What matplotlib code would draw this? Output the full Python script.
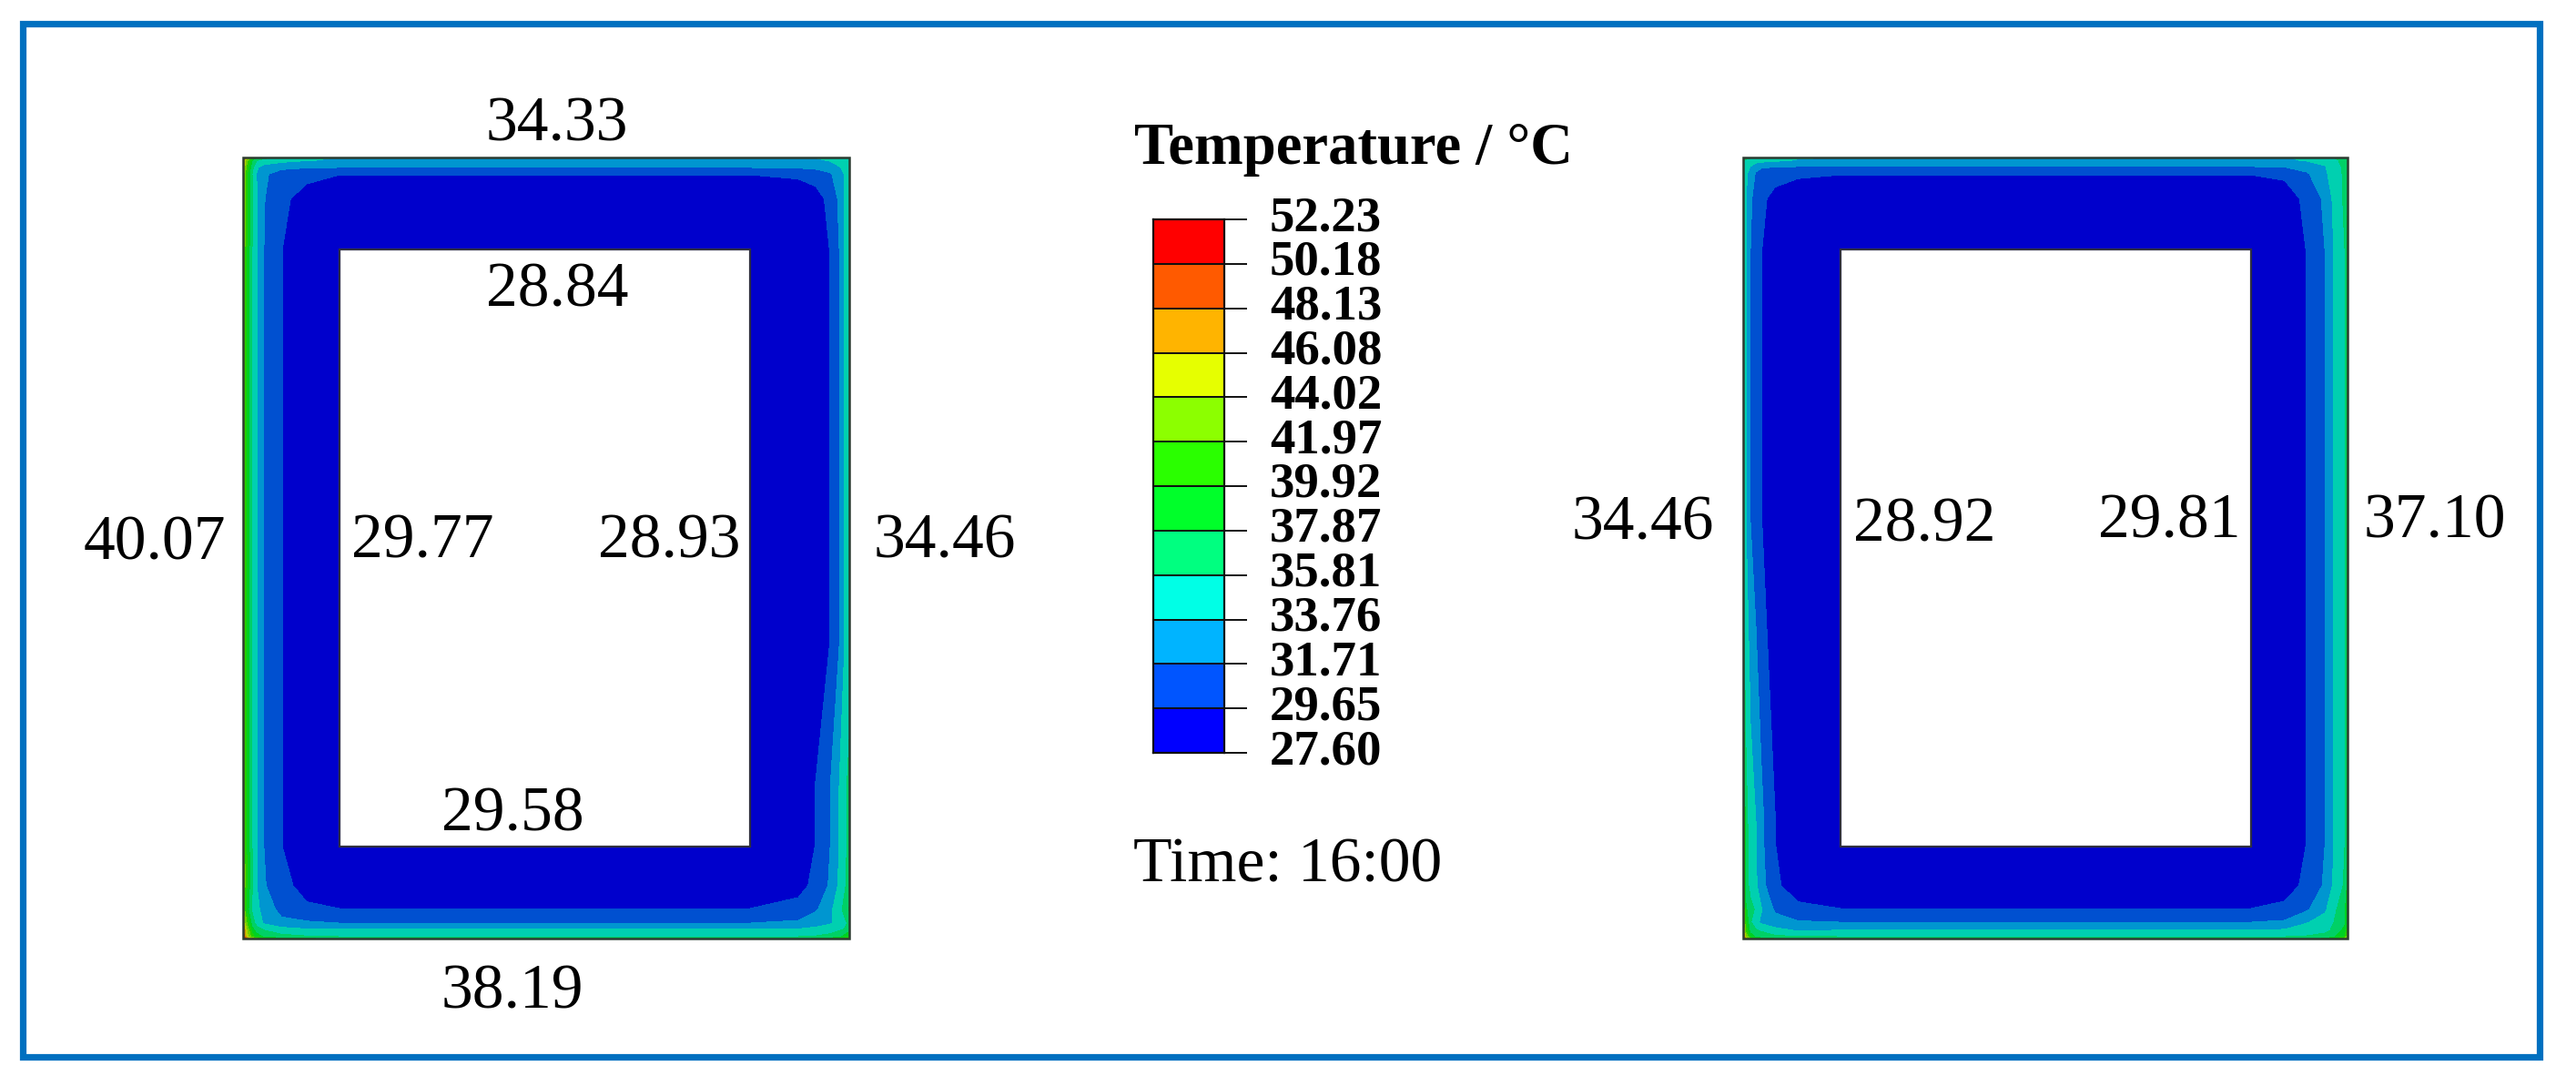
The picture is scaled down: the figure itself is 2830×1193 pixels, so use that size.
import numpy as np
import matplotlib
matplotlib.use('Agg')
import matplotlib.pyplot as plt
from matplotlib.colors import ListedColormap, BoundaryNorm
from matplotlib.patches import Rectangle
from matplotlib.transforms import ScaledTranslation

W, H = 2830, 1193
plt.rcParams['font.family'] = ['Liberation Serif', 'DejaVu Serif']

# legend levels and colours
levels = [27.60, 29.65, 31.71, 33.76, 35.81, 37.87, 39.92, 41.97, 44.02, 46.08, 48.13, 50.18, 52.23]
level_colors = ['#0000FF', '#0055FF', '#00B4FF', '#00FFE6', '#00FF80', '#00FF2A',
                '#2AFF00', '#8CFF00', '#E6FF00', '#FFB400', '#FF5A00', '#FF0000']
field_colors = ['#0000CC', '#0050D0', '#0096D0', '#00D0B0', '#00D066', '#00D022',
                '#22D000', '#70D000', '#B8D000', '#D09000', '#D04800', '#D00000']

x_left = [0, 4, 10, 15, 23, 42, 70, 106, 333, 557, 610, 629, 645, 655, 661, 666]
y_left = [0, 3, 11, 18, 45, 101, 400, 537, 693, 757, 800, 826, 841, 848, 856, 858]
temp_left = [
    [50, 46, 41, 38, 36.5, 35.2, 34.2, 33.7, 33.7, 33.7, 33.7, 33.8, 34.3, 35, 35.5, 36],
    [47, 43, 38, 36, 35, 34.4, 33.9, 33.4, 33.4, 33.4, 33.4, 33.5, 33.9, 34.5, 35, 35.5],
    [46, 41, 36.5, 34, 33, 32.2, 31.8, 31.7, 31.7, 31.7, 31.9, 32.2, 32.9, 33.6, 34.2, 34.8],
    [45, 40.5, 35.8, 33.7, 32.1, 30.7, 30.3, 29.7, 29.7, 29.7, 29.9, 30.3, 31.4, 33, 33.9, 34.6],
    [44.4, 40.3, 36, 33.9, 31.8, 30.2, 28.7, 28.4, 28.4, 28.4, 28.7, 29, 30.1, 32.1, 33.9, 34.6],
    [44, 39.9, 35.8, 33.8, 31.7, 29.7, 28.4, 28, 28, 28, 28.3, 28.6, 29.7, 31.7, 33.8, 34.5],
    [44, 39.9, 35.8, 33.8, 31.7, 29.7, 28.4, 28, 28, 28, 28.3, 28.6, 29.7, 31.7, 33.8, 34.5],
    [44, 39.9, 35.8, 33.8, 31.7, 29.7, 28.4, 28, 28, 28, 28.3, 28.6, 29.7, 31.7, 33.8, 34.5],
    [44, 39.9, 35.8, 33.8, 31.7, 29.7, 28.4, 28, 28, 28, 28.4, 29.7, 31.7, 33.8, 35.2, 36.5],
    [44, 39.9, 35.8, 33.8, 31.7, 29.7, 28.4, 28, 28, 28, 28.4, 29.7, 31.7, 33.8, 35.2, 36.5],
    [44, 40, 36, 33.8, 31.9, 30.3, 28.9, 28.3, 28.3, 28.3, 29.2, 30, 32, 34.1, 35.5, 36.8],
    [44, 39, 35.5, 34.2, 33.1, 31, 30, 29.7, 29.7, 29.7, 30.1, 31.4, 33.3, 35, 36.5, 38],
    [46, 42, 37, 35, 33.5, 32.3, 32, 31.7, 31.7, 31.7, 32.1, 33, 33.5, 34.4, 35.3, 36.3],
    [48, 44, 38.5, 36.5, 35.6, 34.5, 33.9, 33.8, 33.8, 33.8, 33.9, 34.2, 34.8, 35.4, 36, 37],
    [50, 45, 41, 39, 37.5, 36.5, 36, 35.8, 35.8, 35.8, 35.8, 36, 36.5, 37.5, 38.5, 40],
    [52, 48, 44, 42, 40, 38.5, 38, 37.5, 37.5, 37.5, 37.5, 38, 38.5, 39.5, 41, 42],
]

# RIGHT SECTION
x_right = [0, 3, 8, 14, 20, 35, 60, 107, 330, 558, 595, 619, 639, 649, 661, 664]
y_right = [0, 3, 10, 18, 45, 101, 400, 734, 757, 800, 826, 840, 849, 856, 858]
temp_right = [
    [37, 36.5, 36, 35.6, 35.3, 34.8, 34, 33.7, 33.7, 33.7, 33.7, 33.9, 34.2, 35.8, 37, 38],
    [36, 35.6, 35.2, 34.9, 34.6, 34.2, 33.6, 33.4, 33.4, 33.4, 33.5, 33.9, 34.6, 35.3, 36.5, 37.5],
    [35.2, 34.6, 33.7, 32.3, 31.9, 31.8, 31.7, 31.7, 31.7, 31.7, 31.8, 32.6, 33.6, 34.8, 36.3, 37.5],
    [34.7, 34.2, 32.8, 31.5, 31, 30.4, 29.9, 29.7, 29.7, 29.7, 30, 31.4, 33.4, 34.6, 36.2, 37.5],
    [34.7, 33.9, 32, 31, 30.1, 29, 28.6, 28.4, 28.4, 28.4, 28.7, 30.1, 32.1, 34.2, 36.2, 37.8],
    [34.5, 33.8, 31.7, 30.6, 29.7, 28.6, 28.2, 28, 28, 28, 28.3, 29.7, 31.7, 33.8, 35.8, 38],
    [34.5, 33.8, 31.7, 30.6, 29.7, 28.6, 28.2, 28, 28, 28, 28.3, 29.7, 31.7, 33.8, 35.8, 38],
    [42, 36.5, 34.8, 33.8, 32.2, 29.7, 28.4, 28, 28, 28, 28.3, 29.7, 31.7, 33.8, 35.8, 38],
    [42, 36.5, 34.8, 33.8, 32.2, 29.7, 28.4, 28, 28, 28, 28.3, 29.7, 31.7, 33.8, 35.8, 38],
    [42.3, 36.8, 35.1, 34.1, 32.5, 30, 28.7, 28.3, 28.3, 28.3, 29, 30, 32, 34.1, 36.1, 38.3],
    [43.7, 38.2, 36.5, 35.5, 33.9, 31.4, 30.1, 29.7, 29.7, 29.7, 30, 31.4, 33.4, 35.2, 37.5, 39.7],
    [45, 40, 36, 34.5, 33.3, 32.5, 31.9, 31.7, 31.7, 31.7, 32, 33.6, 34.6, 35.8, 37.5, 39.5],
    [46, 41, 37, 36, 35.5, 34.4, 33.6, 33.8, 33.8, 33.8, 34, 34.6, 35.2, 36.2, 38.5, 41],
    [48, 44, 39, 37.5, 37, 36.2, 35.9, 35.8, 35.8, 35.8, 35.8, 36, 36.6, 37.6, 40, 43],
    [50, 46, 41, 39, 38.5, 37.8, 37.4, 37, 37, 37, 37, 37.2, 38, 39.5, 42, 45],
]

# labels around the sections: text, x, y in reference pixels
label_text = ['34.33', '28.84', '40.07', '29.77', '28.93', '34.46', '29.58', '38.19',
              '34.46', '28.92', '29.81', '37.10']
label_x = [612, 612, 170, 464, 735, 1038, 563, 563, 1805, 2114, 2383, 2675]
label_y = [138, 320, 598, 596, 596, 596, 896, 1091, 576, 578, 574, 574]


def px_axes(left, top, right, bottom):
    return fig.add_axes([left / W, 1 - bottom / H, (right - left) / W, (bottom - top) / H])


def draw_section(ax, x, y, temp, width, height, hole):
    ax.contourf(x, y, np.array(temp), levels=levels, cmap=field_cmap, norm=norm, extend='both')
    ax.set_xlim(0, width)
    ax.set_ylim(height, 0)
    ax.axis('off')
    ax.add_patch(Rectangle((hole[0], hole[1]), hole[2] - hole[0], hole[3] - hole[1],
                           fc='white', ec='#303040', lw=1.6))
    ax.add_patch(Rectangle((0, 0), width, height, fc='none', ec='#2c3a30', lw=1.8, clip_on=False))


fig = plt.figure(figsize=(W / 100, H / 100), dpi=100, facecolor='white')

field_cmap = ListedColormap(field_colors)
field_cmap.set_under(field_colors[0])
field_cmap.set_over(field_colors[-1])
norm = BoundaryNorm(levels, len(field_colors))

ax1 = px_axes(267, 173, 933, 1031)
draw_section(ax1, x_left, y_left, temp_left, 666, 858, (106, 101, 557, 757))
ax2 = px_axes(1915, 173, 2579, 1031)
draw_section(ax2, x_right, y_right, temp_right, 664, 858, (107, 101, 558, 757))

# legend
ax3 = px_axes(1267, 241, 1345, 827)
ax3.pcolormesh([0, 1], np.arange(len(levels)), np.arange(len(level_colors)).reshape(-1, 1),
               cmap=ListedColormap(level_colors), edgecolors='#101010', linewidth=1.4)
ax3.set_xticks([])
ax3.yaxis.tick_right()
ax3.set_yticks(np.arange(len(levels)))
ax3.set_yticklabels(['%.2f' % v for v in levels], fontsize=39.5, fontweight='bold')
ax3.tick_params(axis='y', length=18, width=1.4, pad=18, color='#101010')
for lab in ax3.get_yticklabels():
    lab.set_transform(lab.get_transform() + ScaledTranslation(0, 7 / 100, fig.dpi_scale_trans))
for s in ax3.spines.values():
    s.set_linewidth(1.6)
    s.set_color('#101010')

fig.text(1487 / W, 1 - 180 / H, 'Temperature / °C', fontsize=46.5, fontweight='bold',
         ha='center', va='baseline')
fig.text(1415 / W, 1 - 952 / H, 'Time: 16:00', fontsize=50, ha='center', va='center')

for t, x, y in zip(label_text, label_x, label_y):
    fig.text(x / W, 1 - y / H, t, fontsize=50, ha='center', va='center')

# blue frame
fig.add_artist(Rectangle((24.5 / W, 1 - 1161 / H), (2790 - 24.5) / W, (1161 - 26) / H,
                         transform=fig.transFigure, fc='none', ec='#0070C0', lw=5.2))

fig.savefig('out.png', dpi=100)
